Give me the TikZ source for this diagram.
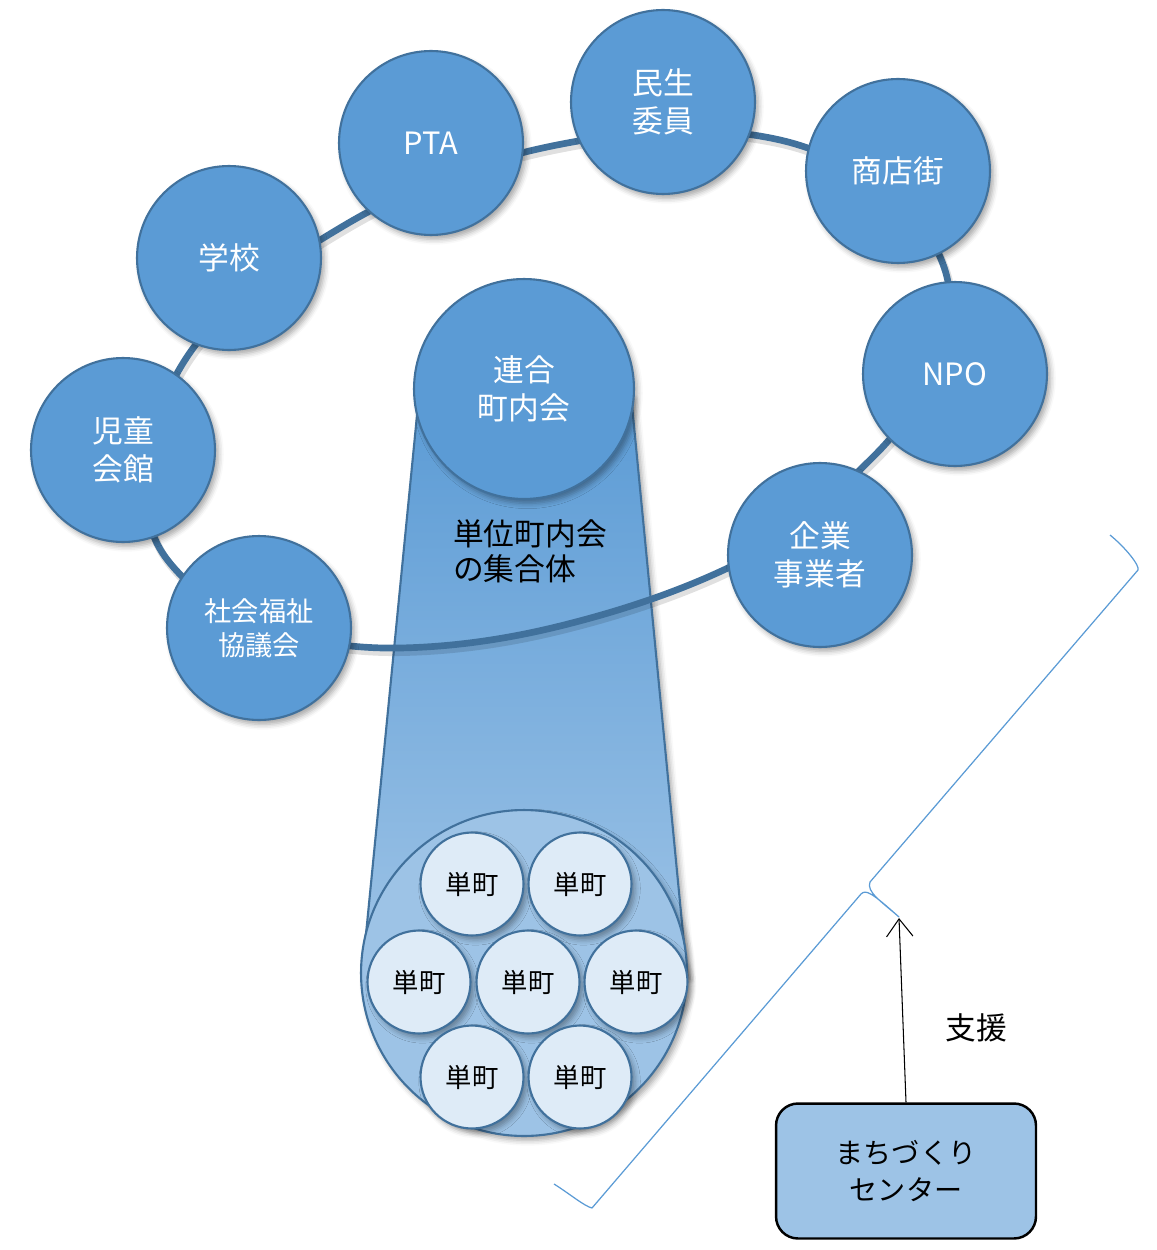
\documentclass[tikz,border=0pt]{standalone}
\usepackage{fontspec}
\setmainfont{Noto Sans CJK JP}
\usetikzlibrary{arrows.meta,shadows.blur}
\definecolor{cmain}{HTML}{5B9BD5}
\definecolor{cedge}{HTML}{41719C}
\definecolor{clight}{HTML}{DEEBF7}
\definecolor{cmid}{HTML}{9DC3E6}
\begin{document}
\begin{tikzpicture}[x=0.02cm,y=-0.02cm,
  shad/.style={blur shadow={shadow xshift=2pt,shadow yshift=-2.5pt,shadow blur radius=3pt,shadow opacity=35}},
  org/.style={circle,draw=cedge,line width=1.2pt,fill=cmain,minimum size=3.68cm,inner sep=0pt,
    text=white,align=center,font=\fontsize{17.5}{21.5}\selectfont,shad},
  cho/.style={circle,draw=cedge,line width=1.2pt,fill=clight,minimum size=2.06cm,inner sep=0pt,
    align=center,font=\fontsize{15}{18}\selectfont,shad},
  ringline/.style={draw=cedge,line width=3.8pt},
  bracket/.style={draw=cmain,line width=0.7pt,line join=round},
  lbl/.style={font=\fontsize{17.5}{20}\selectfont,align=left}
]
\useasboundingbox (0,0) rectangle (1156,1250);

% funnel from the union circle down to the group of towns
\path[draw=cedge,line width=1.2pt,top color=cmain,middle color=cmid,bottom color=cmid,shad]
  (419,395) -- (631,395) -- (687,975) -- (362,975) -- cycle;

% big circle holding the unit towns
\node[circle,draw=cedge,line width=1.2pt,fill=cmid,minimum size=6.52cm,inner sep=0pt,shad] (union) at (524,973) {};

% ring line (shadow, then line)
\def\ringpath{(166,558) .. controls (126.4,505.2) and (149.4,415.4) .. (185,360)
  .. controls (222.8,301.2) and (284.8,260.7) .. (345,225)
  .. controls (408.6,187.3) and (479.5,160.8) .. (552,146)
  .. controls (626.5,130.8) and (706.3,123.3) .. (780,140)
  .. controls (847.9,155.4) and (924,203.5) .. (945,270)
  .. controls (964.8,332.7) and (921.2,408.8) .. (875,455)
  .. controls (832.3,497.7) and (784.9,540.8) .. (730,567)
  .. controls (676,592.8) and (618.2,611.6) .. (560,626)
  .. controls (507.6,639) and (454,646.9) .. (400,648)
  .. controls (316,649.7) and (216.4,625.2) .. (166,558) -- cycle}
\draw[line width=4.5pt,black,opacity=0.12,shift={(2,4)}] \ringpath;
\draw[ringline] \ringpath;

% organisations on the ring
\node[org] (jido)   at (123,450) {児童\\会館};
\node[org] (gakko)  at (229,258) {学校};
\node[org] (pta)    at (431,143) {PTA};
\node[org] (minsei) at (663,102) {民生\\委員};
\node[org] (shoten) at (898,171) {商店街};
\node[org] (npo)    at (955,374) {NPO};
\node[org] (kigyo)  at (820,555) {企業\\事業者};
\node[org,font=\fontsize{15.5}{19.5}\selectfont] (shakyo) at (259,628) {社会福祉\\協議会};

% union of neighbourhood associations
\node[org,minimum size=4.4cm] (rengo) at (524,389) {連合\\町内会};

\node[lbl,anchor=west] (shugo) at (447,551) {単位町内会\\の集合体};

% unit towns
\node[cho] (t1) at (472,884) {単町};
\node[cho] (t2) at (580,884) {単町};
\node[cho] (t3) at (419,982) {単町};
\node[cho] (t4) at (528,982) {単町};
\node[cho] (t5) at (636,982) {単町};
\node[cho] (t6) at (472,1077) {単町};
\node[cho] (t7) at (580,1077) {単町};

% bracket
\draw[bracket] (554,1184) .. controls (570,1194) and (584,1206) .. (592,1208)
  -- (861,894) .. controls (866,889) and (872,893) .. (899,917)
  .. controls (882,902) and (866,892) .. (870,882)
  -- (1138,570) .. controls (1140,566) and (1126,548) .. (1110,535);

% support centre and arrow
\node[draw=black,line width=1.4pt,fill=cmid,rounded corners=0.44cm,minimum width=5.2cm,minimum height=2.7cm,
  align=center,font=\fontsize{16}{21.5}\selectfont] (ctr) at (906,1171) {まちづくり\\センター};
\coordinate (tip) at (899,918);
\draw[-{Straight Barb[length=10pt,width=15pt]},line width=0.6pt] (ctr.north) -- (tip);
\node[font=\fontsize{17.5}{20}\selectfont] (shien) at (976,1028) {支援};
\end{tikzpicture}
\end{document}
